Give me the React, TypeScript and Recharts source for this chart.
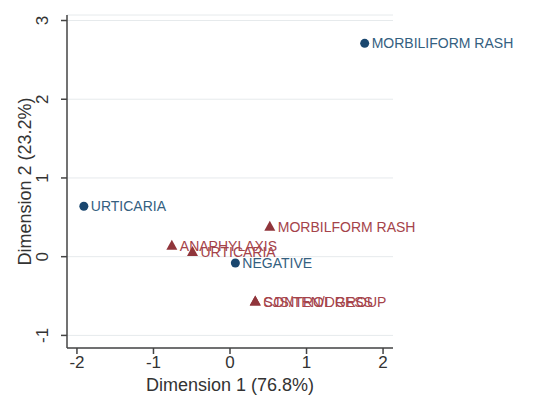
import { ScatterChart, Scatter, XAxis, YAxis, CartesianGrid } from 'recharts';

// column categories (blue circles) and row categories (red triangles)
const colLabels = ['MORBILIFORM RASH', 'URTICARIA', 'NEGATIVE'];
const colDim1 = [1.76, -1.91, 0.07];
const colDim2 = [2.71, 0.64, -0.08];

const rowLabels = ['MORBILFORM RASH', 'ANAPHYLAXIS', 'URTICARIA', 'SJS/TEN/DRESS', 'CONTROL GROUP'];
const rowDim1 = [0.52, -0.76, -0.49, 0.33, 0.33];
const rowDim2 = [0.38, 0.14, 0.06, -0.57, -0.57];

const xTicks = [-2, -1, 0, 1, 2];
const yTicks = [-1, 0, 1, 2, 3];

const BLUE = '#1a476f';
const BLUE_TXT = '#34607f';
const RED = '#90353b';
const RED_TXT = '#a5434a';
const FONT = '"Liberation Sans", Arial, sans-serif';

const colData = colLabels.map((l, i) => ({ x: colDim1[i], y: colDim2[i], label: l }));
const rowData = rowLabels.map((l, i) => ({ x: rowDim1[i], y: rowDim2[i], label: l }));

const CircleMark = (props: any) => {
  const { cx, cy, payload } = props;
  return (
    <g>
      <circle cx={cx} cy={cy} r={4.5} fill={BLUE} />
      <text x={cx + 7} y={cy} dominantBaseline="central" fontSize={14} fill={BLUE_TXT} fontFamily={FONT}>
        {payload.label}
      </text>
    </g>
  );
};

const TriangleMark = (props: any) => {
  const { cx, cy, payload } = props;
  const pts = `${cx},${cy - 6} ${cx - 5.5},${cy + 4} ${cx + 5.5},${cy + 4}`;
  return (
    <g>
      <polygon points={pts} fill={RED} />
      <text x={cx + 8} y={cy} dominantBaseline="central" fontSize={14} fill={RED_TXT} fontFamily={FONT}>
        {payload.label}
      </text>
    </g>
  );
};

const YTick = (props: any) => {
  const { x, y, payload } = props;
  const cx = x - 16;
  return (
    <text x={cx} y={y} textAnchor="middle" dominantBaseline="central" fontSize={17} fill="#333"
      fontFamily={FONT} transform={`rotate(-90, ${cx}, ${y})`}>
      {payload.value}
    </text>
  );
};

const YTitle = (props: any) => {
  const { viewBox } = props;
  const cx = 25;
  const cy = viewBox.y + viewBox.height / 2;
  return (
    <text x={cx} y={cy} textAnchor="middle" dominantBaseline="central" fontSize={18} fill="#333"
      fontFamily={FONT} transform={`rotate(-90, ${cx}, ${cy})`}>
      Dimension 2 (23.2%)
    </text>
  );
};

const XTitle = (props: any) => {
  const { viewBox } = props;
  return (
    <text x={viewBox.x + viewBox.width / 2} y={385} textAnchor="middle" dominantBaseline="central"
      fontSize={18} fill="#333" fontFamily={FONT}>
      Dimension 1 (76.8%)
    </text>
  );
};

export default function App() {
  return (
    <div style={{ position: 'absolute', left: 0, top: 0, width: 539, height: 396, background: '#fff' }}>
      <ScatterChart width={539} height={396} margin={{ top: 15, right: 146, bottom: 0, left: 0 }}>
        <CartesianGrid vertical={false} stroke="#e6eaec" strokeWidth={1} />
        <XAxis
          type="number"
          dataKey="x"
          domain={[-2.13, 2.13]}
          ticks={xTicks}
          height={48}
          tickSize={6}
          stroke="#444"
          strokeWidth={1.5}
          tick={{ fontSize: 17, fill: '#333', fontFamily: FONT }}
          label={{ content: <XTitle /> }}
        />
        <YAxis
          type="number"
          dataKey="y"
          domain={[-1.16, 3.07]}
          ticks={yTicks}
          width={67}
          tickSize={6}
          stroke="#444"
          strokeWidth={1.5}
          tick={<YTick />}
          label={{ content: <YTitle /> }}
        />
        <Scatter data={colData} fill={BLUE} shape={<CircleMark />} isAnimationActive={false} />
        <Scatter data={rowData} fill={RED} shape={<TriangleMark />} isAnimationActive={false} />
      </ScatterChart>
    </div>
  );
}
